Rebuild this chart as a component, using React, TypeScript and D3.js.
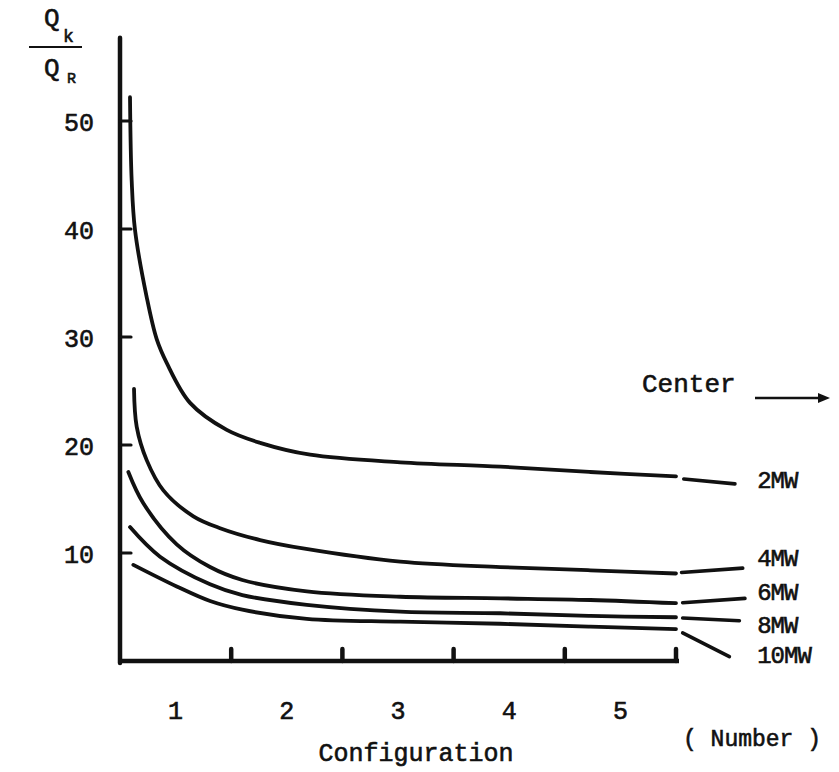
import React, { useEffect, useRef } from 'react';
import * as d3 from 'd3';

type Pt = [number, number];

// Configuration number (x) vs Qk/QR (y)
const seriesNames = ['2MW', '4MW', '6MW', '8MW', '10MW'];

const curve2MW: Pt[] = [
  [0.09, 52.2], [0.105, 44.5], [0.135, 39.9], [0.24, 33.7], [0.33, 29.8], [0.42, 27.6],
  [0.63, 23.9], [0.96, 21.4], [1.26, 20.2], [1.71, 19.1], [2.52, 18.4], [3.42, 18.0],
  [4.23, 17.5], [5.0, 17.1],
];
const curve4MW: Pt[] = [
  [0.126, 25.2], [0.15, 21.7], [0.24, 18.6], [0.39, 15.8], [0.66, 13.4], [0.9, 12.3],
  [1.26, 11.2], [1.66, 10.4], [2.52, 9.2], [3.42, 8.7], [4.23, 8.4], [5.0, 8.1],
];
const curve6MW: Pt[] = [
  [0.075, 17.5], [0.21, 14.6], [0.51, 10.8], [0.81, 8.7], [1.1, 7.5], [1.68, 6.45],
  [2.52, 5.95], [3.42, 5.8], [4.23, 5.65], [5.0, 5.35],
];
const curve8MW: Pt[] = [
  [0.09, 12.4], [0.36, 9.66], [0.81, 7.1], [1.1, 6.1], [1.68, 5.2], [2.52, 4.57],
  [3.42, 4.42], [4.23, 4.17], [5.0, 4.05],
];
const curve10MW: Pt[] = [
  [0.12, 8.9], [0.51, 6.9], [0.81, 5.55], [1.1, 4.75], [1.68, 3.9], [2.52, 3.64],
  [3.42, 3.45], [4.23, 3.18], [5.0, 2.96],
];
const curves = [curve2MW, curve4MW, curve6MW, curve8MW, curve10MW];

// short leader strokes from the curve ends to the labels
const leaders: [Pt, Pt][] = [
  [[5.07, 16.85], [5.53, 16.4]],
  [[5.05, 8.2], [5.6, 8.6]],
  [[5.06, 5.4], [5.62, 5.8]],
  [[5.06, 3.98], [5.57, 3.73]],
  [[5.06, 2.6], [5.48, 0.4]],
];
const labelX = 5.73;
const labelY = [16.6, 9.35, 6.2, 3.15, 0.37];

const yTicks = [10, 20, 30, 40, 50];
const xTicks = [1, 2, 3, 4, 5];
const xCategories = ['1', '2', '3', '4', '5'];
const yAxisMax = 57.7;

const FONT = '"Liberation Mono", "DejaVu Sans Mono", monospace';

export default function App() {
  const svgRef = useRef<SVGSVGElement>(null);

  useEffect(() => {
    if (!svgRef.current) return;
    const svg = d3.select(svgRef.current);
    svg.selectAll('*').remove();

    const x = d3.scaleLinear().domain([0, 5]).range([120, 676]);
    const y = d3.scaleLinear().domain([0, 50]).range([661, 121]);

    const ink = '#111';

    const txt = (sel: d3.Selection<any, any, any, any>, size: number) =>
      sel.attr('font-family', FONT).attr('font-size', size).attr('fill', ink)
        .attr('stroke', ink).attr('stroke-width', 0.6);

    // axes
    svg.append('line')
      .attr('x1', x(0)).attr('x2', x(0))
      .attr('y1', y(0) + 2).attr('y2', y(yAxisMax))
      .attr('stroke', ink).attr('stroke-width', 4.5).attr('stroke-linecap', 'round');
    svg.append('line')
      .attr('x1', x(0) - 2).attr('x2', x(5) + 3)
      .attr('y1', y(0)).attr('y2', y(0))
      .attr('stroke', ink).attr('stroke-width', 4.5);

    // y ticks (pointing right) and labels
    svg.append('g').selectAll('line').data(yTicks).join('line')
      .attr('x1', x(0)).attr('x2', x(0) + 11)
      .attr('y1', d => y(d)).attr('y2', d => y(d))
      .attr('stroke', ink).attr('stroke-width', 3.2).attr('stroke-linecap', 'round');
    txt(svg.append('g').selectAll('text').data(yTicks).join('text'), 25)
      .attr('x', 94).attr('y', d => y(d) + 3)
      .attr('text-anchor', 'end').attr('dominant-baseline', 'middle')
      .text(d => String(d));

    // x ticks (pointing up) and category labels
    svg.append('g').selectAll('line').data(xTicks).join('line')
      .attr('x1', d => x(d)).attr('x2', d => x(d))
      .attr('y1', y(0)).attr('y2', y(0) - 12)
      .attr('stroke', ink).attr('stroke-width', 4.5).attr('stroke-linecap', 'round');
    txt(svg.append('g').selectAll('text').data(xCategories).join('text'), 25)
      .attr('x', (_, i) => x(i + 0.5)).attr('y', 712)
      .attr('text-anchor', 'middle').attr('dominant-baseline', 'middle')
      .text(d => d);

    // curves
    const line = d3.line<Pt>()
      .x(d => x(d[0]))
      .y(d => y(d[1]))
      .curve(d3.curveCatmullRom.alpha(0.5));

    svg.append('g').selectAll('path').data(curves).join('path')
      .attr('d', d => line(d))
      .attr('fill', 'none').attr('stroke', ink).attr('stroke-width', 3.8)
      .attr('stroke-linecap', 'round').attr('stroke-linejoin', 'round');

    svg.append('g').selectAll('line').data(leaders).join('line')
      .attr('x1', d => x(d[0][0])).attr('y1', d => y(d[0][1]))
      .attr('x2', d => x(d[1][0])).attr('y2', d => y(d[1][1]))
      .attr('stroke', ink).attr('stroke-width', 3.6).attr('stroke-linecap', 'round');

    txt(svg.append('g').selectAll('text').data(seriesNames).join('text'), 24)
      .attr('x', x(labelX)).attr('y', (_, i) => y(labelY[i]))
      .attr('dominant-baseline', 'middle')
      .attr('letter-spacing', -1)
      .text(d => d);

    // "Center" with arrow
    txt(svg.append('text'), 26)
      .attr('x', 642).attr('y', 392)
      .text('Center');
    svg.append('line')
      .attr('x1', 755).attr('x2', 820).attr('y1', 398).attr('y2', 398)
      .attr('stroke', ink).attr('stroke-width', 2.5);
    svg.append('path')
      .attr('d', 'M818,393 L830,398 L818,403 Z')
      .attr('fill', ink);

    // axis titles
    txt(svg.append('text'), 25)
      .attr('x', 416).attr('y', 754)
      .attr('text-anchor', 'middle').attr('dominant-baseline', 'middle')
      .text('Configuration');
    txt(svg.append('text'), 23)
      .attr('x', 683).attr('y', 740)
      .attr('dominant-baseline', 'middle')
      .attr('xml:space', 'preserve')
      .text('( Number )');

    // Qk / QR
    const yTitle = svg.append('g');
    txt(yTitle.append('text'), 26).attr('x', 44).attr('y', 26).text('Q');
    txt(yTitle.append('text'), 18).attr('x', 63).attr('y', 42).text('k');
    yTitle.append('line')
      .attr('x1', 29).attr('x2', 82).attr('y1', 47).attr('y2', 47)
      .attr('stroke', ink).attr('stroke-width', 2.2);
    txt(yTitle.append('text'), 26).attr('x', 44).attr('y', 76).text('Q');
    txt(yTitle.append('text'), 15).attr('x', 67).attr('y', 83).text('R');
  }, []);

  return (
    <div style={{ position: 'absolute', left: 0, top: 0, width: 839, height: 772, background: '#fff' }}>
      <svg ref={svgRef} width={839} height={772} />
    </div>
  );
}
